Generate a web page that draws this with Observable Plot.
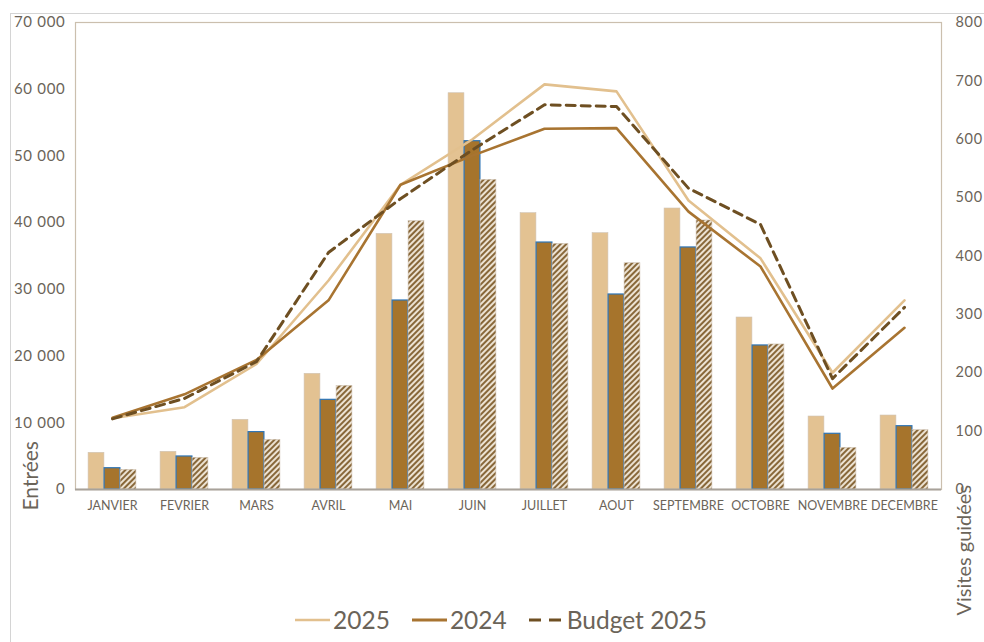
<!DOCTYPE html>
<html>
<head>
<meta charset="utf-8">
<script src="https://cdn.jsdelivr.net/npm/d3@7"></script>
<script src="https://cdn.jsdelivr.net/npm/@observablehq/plot@0.6"></script>
<style>
  html, body { margin: 0; padding: 0; background: #fff; overflow: hidden; }
  #wrap { position: relative; width: 984px; height: 642px; }
  #border { position: absolute; left: 10px; top: 13px; width: 1100px; height: 800px; border: 1px solid #d4d4d4; box-sizing: border-box; }
  #chart { position: absolute; left: 0; top: 0; }
  #legend { position: absolute; left: 9px; top: 605px; width: 984px; display: flex; justify-content: center; align-items: center; gap: 22px;
            font-family: Lato, "Open Sans", sans-serif; font-size: 24.5px; color: #6b6459; }
  #legend .item { display: flex; align-items: center; gap: 3px; }
</style>
</head>
<body>
<div id="wrap">
  <div id="border"></div>
  <div id="chart"></div>
  <div id="legend"></div>
</div>
<script>
const months = ["JANVIER","FEVRIER","MARS","AVRIL","MAI","JUIN","JUILLET","AOUT","SEPTEMBRE","OCTOBRE","NOVEMBRE","DECEMBRE"];
const entrees2025 = [5500, 5650, 10450, 17340, 38320, 59400, 41420, 38420, 42120, 25780, 10940, 11090];
const entrees2024 = [3190, 4950, 8600, 13440, 28330, 52210, 37020, 29230, 36280, 21590, 8350, 9490];
const entreesBudget = [2950, 4750, 7450, 15540, 40220, 46420, 36820, 33920, 40320, 21740, 6250, 8890];
const visites2025 = [122, 141, 215, 358, 522, 600, 694, 682, 495, 396, 200, 324];
const visites2024 = [123, 163, 222, 324, 522, 572, 618, 619, 476, 382, 173, 277];
const visitesBudget = [121, 156, 219, 406, 498, 582, 659, 656, 516, 454, 190, 312];
const leftTicks = [0, 10000, 20000, 30000, 40000, 50000, 60000, 70000];
const rightTicks = [0, 100, 200, 300, 400, 500, 600, 700, 800];
const seriesNames = ["2025", "2024", "Budget 2025"];

const ratio = 70000 / 800;
const fmt = n => String(n).replace(/\B(?=(\d{3})+(?!\d))/g, " ");

const rows = (vals, k) => months.map((m, i) => ({month: m, v: vals[i] * k}));

const bw = 866 / 12;
const barW = 16;
const off = (bw - 3 * barW) / 2;

const chart = Plot.plot({
  width: 984,
  height: 642,
  marginLeft: 75,
  marginRight: 43,
  marginTop: 22,
  marginBottom: 153,
  style: {fontFamily: "Lato, 'Open Sans', sans-serif", color: "#6b6459", background: "transparent"},
  x: {type: "band", domain: months, padding: 0, axis: null},
  y: {domain: [0, 70000], axis: null},
  marks: [
    Plot.frame({stroke: "#cbbfae", strokeWidth: 1.2}),
    Plot.barY(rows(entrees2025, 1), {x: "month", y: "v", fill: "#e3c292", stroke: "#cfc3b4", strokeWidth: 0.6,
      insetLeft: off, insetRight: bw - off - barW}),
    Plot.barY(rows(entrees2024, 1), {x: "month", y: "v", fill: "#a6742c", stroke: "#2e75b6", strokeWidth: 1.2,
      insetLeft: off + barW, insetRight: bw - off - 2 * barW}),
    Plot.barY(rows(entreesBudget, 1), {x: "month", y: "v", fill: "url(#hatch)", stroke: "#cfc3b4", strokeWidth: 0.6,
      insetLeft: off + 2 * barW, insetRight: bw - off - 3 * barW}),
    Plot.ruleY([0], {stroke: "#a8a29a", strokeWidth: 2}),
    Plot.line(rows(visites2025, ratio), {x: "month", y: "v", stroke: "#e2c08e", strokeWidth: 2.6}),
    Plot.line(rows(visites2024, ratio), {x: "month", y: "v", stroke: "#a87431", strokeWidth: 2.6}),
    Plot.line(rows(visitesBudget, ratio), {x: "month", y: "v", stroke: "#6e4f22", strokeWidth: 3, strokeDasharray: "9,6"}),
    Plot.axisX({tickSize: 0, tickPadding: 12, fontSize: 12.5, label: null, fill: "#6b6459"}),
    Plot.axisY({anchor: "left", ticks: leftTicks, tickSize: 0, tickPadding: 10, tickFormat: fmt, fontSize: 15, label: null, fill: "#6b6459"}),
    Plot.axisY({anchor: "right", ticks: rightTicks.map(v => v * ratio), tickSize: 0, tickPadding: 14,
      tickFormat: v => String(Math.round(v / ratio)), fontSize: 14.5, label: null, fill: "#6b6459"}),
    Plot.text(["Entrées"], {frameAnchor: "bottom-left", text: d => d, rotate: -90, textAnchor: "start",
      dx: -38, dy: 21, fontSize: 21, fill: "#6b6459"}),
    Plot.text(["Visites guidées"], {frameAnchor: "bottom-right", text: d => d, rotate: -90, textAnchor: "start",
      dx: 29, dy: 126, fontSize: 20, fill: "#6b6459"})
  ]
});

// hatch pattern
const svgSel = d3.select(chart.tagName.toLowerCase() === "svg" ? chart : chart.querySelector("svg"));
const defs = svgSel.insert("defs", ":first-child");
const pat = defs.append("pattern").attr("id", "hatch").attr("patternUnits", "userSpaceOnUse")
  .attr("width", 4).attr("height", 4).attr("patternTransform", "rotate(45)");
pat.append("rect").attr("width", 4).attr("height", 4).attr("fill", "#ece2d2");
pat.append("line").attr("x1", 1).attr("y1", 0).attr("x2", 1).attr("y2", 4).attr("stroke", "#7d5a28").attr("stroke-width", 1.8);

// wider spacing for y tick labels, like the reference font
svgSel.selectAll('g[aria-label="y-axis tick label"]').style("letter-spacing", "0.7px");

document.getElementById("chart").appendChild(chart);

// legend
const legendStyles = [
  {stroke: "#e2c08e", width: 2.6, dash: null},
  {stroke: "#a87431", width: 3, dash: null},
  {stroke: "#6e4f22", width: 3.2, dash: "12,8"}
];
const legend = d3.select("#legend");
seriesNames.forEach((name, i) => {
  const item = legend.append("div").attr("class", "item");
  const s = item.append("svg").attr("width", 35).attr("height", 10);
  s.append("line").attr("x1", 0).attr("x2", 35).attr("y1", 5).attr("y2", 5)
    .attr("stroke", legendStyles[i].stroke).attr("stroke-width", legendStyles[i].width)
    .attr("stroke-dasharray", legendStyles[i].dash);
  item.append("span").text(name);
});
</script>
</body>
</html>
